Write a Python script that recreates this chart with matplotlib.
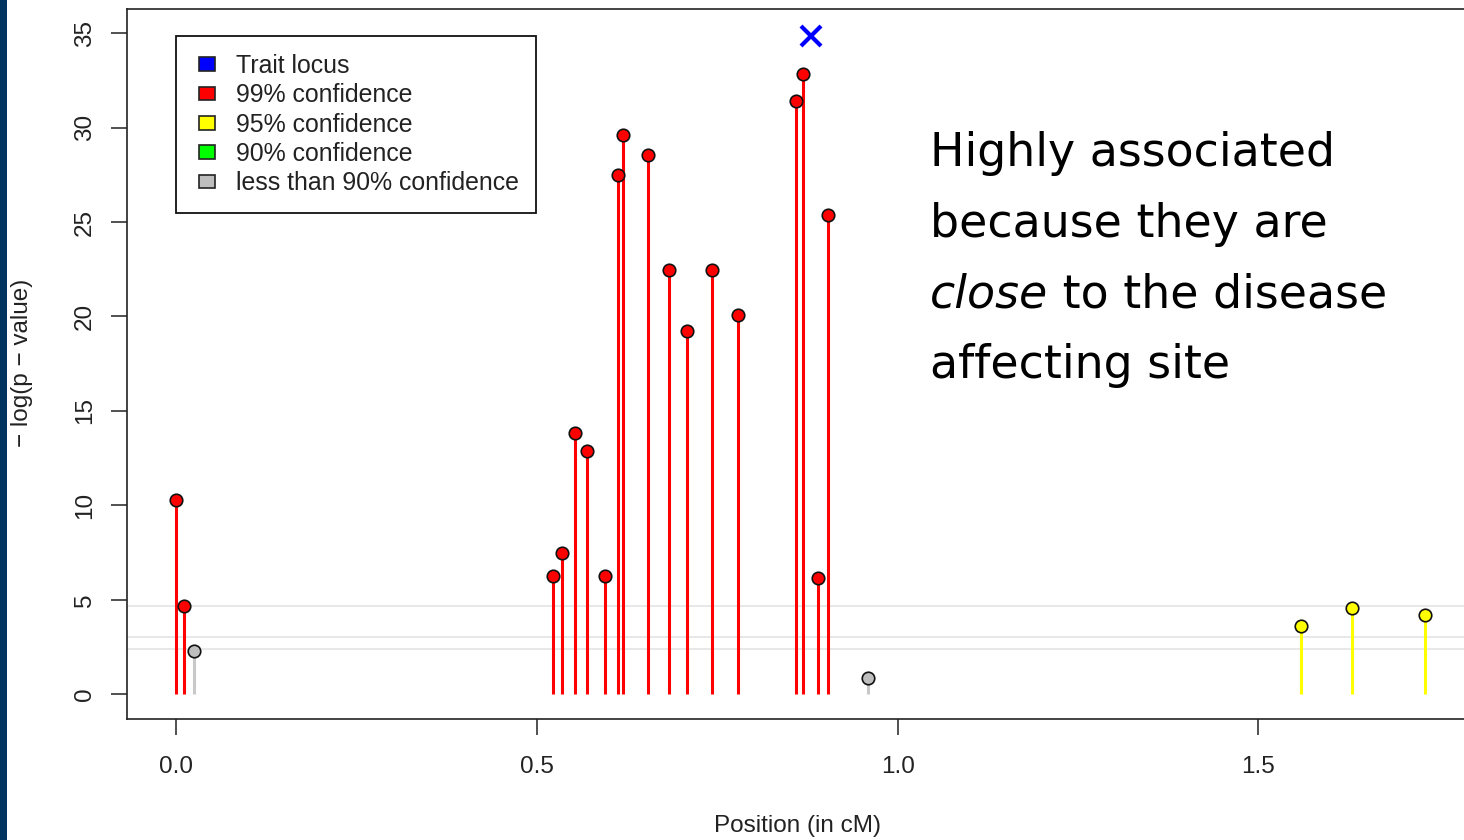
import matplotlib
matplotlib.use("Agg")
import matplotlib.pyplot as plt
from matplotlib.patches import Patch, Rectangle
from matplotlib.legend_handler import HandlerPatch

# marker positions (cM) and -log(p) values
red_pos = [0.0, 0.011, 0.5227, 0.5343, 0.5532, 0.5698, 0.5939, 0.6130, 0.6187,
           0.6535, 0.6835, 0.708, 0.7431, 0.7783, 0.8592, 0.8684, 0.8901, 0.9039]
red_val = [10.3, 4.67, 6.26, 7.5, 13.82, 12.88, 6.26, 27.5, 29.6,
           28.55, 22.46, 19.23, 22.46, 20.1, 31.4, 32.84, 6.14, 25.38]
yellow_pos = [1.559, 1.630, 1.731]
yellow_val = [3.63, 4.58, 4.2]
grey_pos = [0.0245, 0.9585]
grey_val = [2.29, 0.85]
trait_pos = [0.880]
trait_val = [34.85]
threshold_lines = [4.69, 3.02, 2.40]

legend_labels = ["Trait locus", "99% confidence", "95% confidence",
                 "90% confidence", "less than 90% confidence"]
legend_colors = ["#0000ff", "#ff0000", "#ffff00", "#00ff00", "#bebebe"]

W, H = 1464, 840
fig = plt.figure(figsize=(W / 100, H / 100), dpi=100)
fig.patch.set_facecolor("white")

# axes box in pixels: left 127, right past the edge, top 9, bottom 719
ax = fig.add_axes([127 / W, (H - 719) / H, (1480 - 127) / W, (719 - 9.3) / H])
ax.set_xlim(-0.0684, 1.8074)
ax.set_ylim(-1.31, 36.26)

small = dict(family="Liberation Sans", size=17.5)

for y in threshold_lines:
    ax.axhline(y, color="#e6e6e6", lw=1.3, zorder=1)

ax.vlines(red_pos, 0, red_val, colors="#ff0000", lw=2.2, zorder=2)
ax.vlines(yellow_pos, 0, yellow_val, colors="#ffff00", lw=2.2, zorder=2)
ax.vlines(grey_pos, 0, grey_val, colors="#c8c8c8", lw=2.2, zorder=2)
mk = dict(marker="o", ls="none", ms=9, mec="#111111", mew=1.2, zorder=3)
ax.plot(red_pos, red_val, mfc="#ff0000", **mk)
ax.plot(yellow_pos, yellow_val, mfc="#ffff00", **mk)
ax.plot(grey_pos, grey_val, mfc="#bebebe", **mk)
ax.plot(trait_pos, trait_val, marker="x", ls="none", ms=14, mew=3,
        color="#0000ff", zorder=4)

for s in ax.spines.values():
    s.set_linewidth(1.2)
    s.set_color("#222222")

ax.set_xticks([0.0, 0.5, 1.0, 1.5])
ax.set_xticklabels(["0.0", "0.5", "1.0", "1.5"])
ax.set_yticks(range(0, 36, 5))
ax.tick_params(length=11.5, width=1.1, color="#222222", labelcolor="#222222")
ax.tick_params(axis="x", pad=15)
ax.tick_params(axis="y", pad=11, labelrotation=90)
for lab in ax.get_xticklabels() + ax.get_yticklabels():
    lab.set_fontfamily(small["family"])
    lab.set_fontsize(small["size"])
for lab in ax.get_yticklabels():
    lab.set_verticalalignment("center")

fig.text(798 / W, 1 - 826 / H, "Position (in cM)", ha="center", va="center",
         color="#222222", **small)
fig.text(22 / W, 1 - 363 / H, "\u2212 log(p \u2212 value)", rotation=90,
         ha="center", va="center", color="#222222", **small)


def small_square(legend, orig_handle, xdescent, ydescent, width, height, fontsize):
    w, h = 11.5, 10
    return Rectangle((-xdescent + width - w, -ydescent + (height - h) / 2), w, h)


handles = [Patch(facecolor=c, edgecolor="#222222", lw=1.2) for c in legend_colors]
leg = ax.legend(handles, legend_labels, loc="upper left",
                bbox_to_anchor=(176 / W, 1 - 36 / H), bbox_transform=fig.transFigure,
                borderaxespad=0, borderpad=0.72, handlelength=0.84, handleheight=0.6,
                handletextpad=0.84, labelspacing=0.215, fancybox=False,
                framealpha=1, edgecolor="#111111",
                prop=dict(family="Liberation Sans", size=17.9),
                handler_map={Patch: HandlerPatch(patch_func=small_square)})
leg.get_frame().set_linewidth(1.3)
for t in leg.get_texts():
    t.set_color("#222222")

# the note at the right
big = dict(family="DejaVu Sans", size=33, color="black")
x0 = 930 / W
baselines = [166.5, 237.0, 307.5, 378.0]
fig.text(x0, 1 - baselines[0] / H, "Highly associated", va="baseline", **big)
fig.text(x0, 1 - baselines[1] / H, "because they are", va="baseline", **big)
t_close = fig.text(x0, 1 - baselines[2] / H, "close", va="baseline", style="italic", **big)
fig.text(x0, 1 - baselines[3] / H, "affecting site", va="baseline", **big)
fig.canvas.draw()
bb = t_close.get_window_extent()
fig.text(bb.x1 / W, 1 - baselines[2] / H, " to the disease", va="baseline", **big)

# dark strip at the left edge
fig.patches.append(Rectangle((0, 0), 7 / W, 1, transform=fig.transFigure,
                             facecolor="#00335f", edgecolor="none", zorder=10))

fig.savefig("out.png", dpi=100)
